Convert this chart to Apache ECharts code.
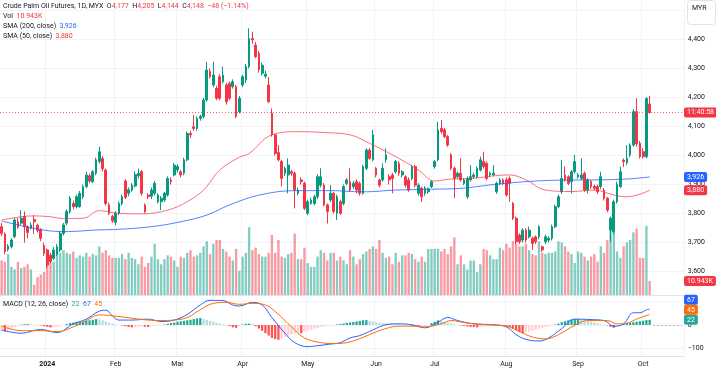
<!DOCTYPE html>
<html><head><meta charset="utf-8">
<script src="https://cdn.jsdelivr.net/npm/echarts@6/dist/echarts.min.js"></script>
<style>html,body{margin:0;padding:0;background:#fff}#c{width:716px;height:372px}</style>
</head><body><div id="c"></div>
<script>
// ---- calendar (categories) ----
const holidays = ['2023-12-25','2024-01-01','2024-01-25','2024-02-01','2024-02-12','2024-03-28','2024-04-10','2024-04-11','2024-05-01','2024-05-22','2024-06-03','2024-06-17','2024-07-08','2024-09-16'];
const firstDay = '2023-12-11';
const lastDay = '2024-10-17';
const monthNames = ['2024','Feb','Mar','Apr','May','Jun','Jul','Aug','Sep','Oct','Nov','Dec'];

// ---- price data (one value per trading day) ----
const opens = [
3755,3730,3677,3686,3721,3772,3767,3790,3755,3750,
3780,3760,3745,3690,3675,3657,3646,3660,3675,3732,
3767,3807,3835,3824,3824,3858,3893,3930,3910,3939,
3979,3990,3950,3830,3790,3770,3801,3835,3912,3870,
3881,3895,3930,3944,3830,3864,3860,3870,3841,3841,
3847,3864,3916,3933,3950,3944,3939,3985,4076,4099,
4093,4128,4134,4191,4289,4243,4231,4271,4254,4243,
4248,4237,4237,4151,4243,4260,4306,4403,4380,4352,
4283,4273,4243,4145,4071,4010,3979,3939,3933,3944,
3939,3870,3916,3904,3801,3835,3835,3858,3898,3898,
3830,3847,3870,3801,3841,3835,3904,3910,3893,3910,
3904,3870,3956,4019,3985,3956,3916,3916,3985,3927,
3933,3944,3973,3933,3927,3916,3921,3962,3870,3887,
3870,3875,3893,3962,3985,4093,4088,4065,4002,3956,
3927,3939,3904,3858,3916,3927,3927,3950,3979,3973,
3933,3933,3875,3904,3916,3916,3921,3835,3784,3726,
3709,3743,3720,3715,3720,3720,3686,3703,3709,3715,
3755,3824,3875,3933,3927,3910,3944,3927,3921,3939,
3881,3910,3893,3893,3893,3881,3853,3744,3738,3841,
3893,3984,3975,4002,4036,4151,4042,4013,3996,4177];
const highs = [
3768,3735,3695,3715,3785,3785,3812,3808,3760,3770,
3795,3765,3750,3700,3680,3665,3685,3695,3740,3768,
3815,3860,3845,3865,3878,3900,3944,3938,3950,3992,
4030,3998,3955,3838,3795,3808,3842,3865,3918,3890,
3905,3945,3955,3950,3835,3870,3890,3912,3870,3860,
3875,3928,3925,3975,3970,3950,3992,4082,4085,4139,
4135,4140,4198,4323,4300,4323,4240,4280,4306,4250,
4255,4262,4243,4205,4278,4315,4438,4426,4390,4360,
4320,4292,4270,4162,4075,4036,3985,3962,3990,3950,
3945,3890,3925,3910,3848,3855,3865,3935,3956,3905,
3835,3898,3875,3865,3848,3900,3922,3956,3912,3918,
3910,3968,4025,4025,4088,3960,3920,3973,4025,3935,
3940,3985,3980,3950,3932,3925,3968,3968,3905,3893,
3895,3890,3915,3985,4116,4122,4095,4070,4008,3962,
3945,3990,3922,3928,3967,3940,3962,3996,4013,3980,
3945,3967,3910,3922,3922,3925,3928,3840,3790,3732,
3750,3750,3755,3720,3725,3760,3690,3728,3722,3762,
3830,3865,3985,3962,3932,3950,4002,3940,3990,3945,
3922,3916,3900,3900,3944,3888,3858,3790,3848,3910,
3962,3990,4035,4042,4160,4197,4050,4025,4200,4205];
const lows = [
3722,3660,3670,3680,3715,3748,3760,3700,3715,3745,
3730,3735,3705,3655,3612,3628,3640,3655,3668,3725,
3760,3800,3815,3818,3820,3850,3888,3905,3905,3932,
3972,3945,3828,3795,3768,3760,3795,3828,3850,3860,
3875,3890,3920,3862,3801,3850,3850,3862,3835,3812,
3840,3858,3900,3928,3940,3925,3932,3980,4060,4085,
4085,4120,4128,4185,4265,4235,4190,4190,4248,4175,
4190,4230,4128,4145,4235,4250,4300,4385,4335,4285,
4275,4265,4180,4065,4000,3980,3893,3930,3870,3930,
3818,3862,3900,3812,3795,3830,3828,3850,3890,3825,
3766,3840,3800,3778,3795,3828,3898,3875,3885,3870,
3862,3865,3950,3985,3980,3925,3890,3910,3975,3900,
3870,3938,3930,3925,3890,3875,3915,3890,3862,3841,
3862,3868,3888,3955,3980,4075,4060,4030,3950,3853,
3920,3910,3898,3850,3910,3920,3920,3945,3955,3915,
3925,3928,3868,3898,3898,3858,3841,3778,3695,3695,
3700,3700,3715,3675,3695,3712,3668,3695,3700,3708,
3750,3818,3868,3910,3898,3870,3938,3920,3915,3875,
3870,3885,3880,3868,3885,3845,3805,3703,3730,3835,
3888,3960,3968,3995,4030,4030,3990,3990,3990,4144];
const closes = [
3732,3669,3688,3709,3778,3753,3784,3755,3735,3761,
3772,3742,3715,3663,3623,3635,3675,3686,3732,3761,
3807,3853,3824,3858,3870,3893,3933,3912,3944,3985,
4013,3955,3835,3801,3775,3801,3835,3858,3856,3882,
3898,3935,3939,3870,3807,3858,3881,3904,3864,3853,
3870,3921,3910,3967,3962,3933,3985,4076,4071,4093,
4128,4134,4191,4294,4271,4277,4197,4197,4277,4185,
4197,4254,4134,4197,4271,4306,4403,4398,4340,4295,
4311,4280,4185,4071,4007,3985,3921,3956,3967,3939,
3881,3881,3910,3818,3841,3847,3858,3927,3927,3830,
3807,3870,3807,3858,3801,3893,3916,3881,3904,3881,
3870,3962,4019,3990,4071,3933,3898,3956,4002,3916,
3921,3979,3939,3944,3898,3881,3962,3898,3898,3858,
3887,3885,3910,3979,4088,4082,4065,4036,3956,3921,
3939,3916,3916,3921,3927,3933,3956,3985,3962,3921,
3939,3939,3904,3916,3904,3864,3904,3784,3703,3703,
3743,3709,3743,3697,3703,3755,3675,3720,3715,3755,
3824,3858,3921,3916,3904,3944,3979,3933,3933,3881,
3916,3893,3887,3875,3927,3853,3812,3784,3841,3900,
3944,3979,3990,4036,4151,4040,3996,3996,4196,4148];
// volume in thousands
const volumes = [
27,26,32,22,20,26,21,22,24,20,8,14,16,18,
24,25,26,35,33,35,33,32,34,29,31,30,33,30,32,31,38,33,35,31,29,29,29,32,28,33,29,
28,24,30,22,25,30,40,28,24,28,31,30,27,22,30,29,33,35,30,31,33,38,42,32,40,43,43,36,34,30,27,36,19,30,33,53,35,37,32,30,
30,33,47,33,43,30,29,32,33,48,28,28,37,25,22,22,30,35,33,27,33,33,27,30,27,24,35,30,24,28,32,34,36,38,36,43,33,29,30,24,
33,26,31,31,33,32,28,26,30,26,36,36,36,36,34,36,32,38,45,24,31,24,20,27,27,18,24,36,35,31,28,28,37,35,40,37,42,40,38,38,
40,35,32,31,42,33,32,33,33,34,42,41,38,34,32,25,34,33,30,27,30,32,26,38,33,43,53,58,34,29,38,41,43,49,52,29,29,54,10.943];

// ---- indicator readings: [barIndex, value] ----
const sma200Pts = [[0,3775],[10,3749],[19,3738],[30,3744],[36,3746],[46,3755],[55,3772],[63,3795],[70,3830],[80,3866],[91,3879],[101,3879],[111,3875],[121,3881],[132,3884],[141,3887],[151,3900],[161,3910],[171,3915],[182,3916],[192,3919],[199,3926]];
const sma50Pts = [[0,3778],[6,3789],[10,3792],[15,3789],[19,3783],[25,3784],[30,3810],[36,3801],[43,3799],[51,3812],[57,3841],[62,3881],[67,3950],[73,3994],[76,4007],[83,4071],[91,4082],[99,4079],[107,4071],[113,4042],[121,3996],[128,3950],[133,3912],[137,3918],[144,3921],[156,3933],[161,3916],[167,3881],[175,3876],[182,3881],[188,3864],[192,3858],[199,3880]];
const macdPts = [[0,-21],[6,-35],[12,-19],[17,-32],[22,5],[26,25],[30,59],[32,63],[34,39],[36,21],[40,21],[45,25],[49,15],[53,21],[57,45],[61,85],[64,105],[68,104],[71,85],[73,81],[77,96],[80,85],[83,32],[87,-35],[90,-75],[94,-92],[97,-88],[101,-81],[104,-75],[107,-55],[110,-45],[114,-21],[118,1],[122,5],[126,1],[130,-12],[134,12],[137,32],[140,19],[145,5],[151,1],[155,-8],[158,-41],[161,-61],[165,-68],[168,-55],[172,-15],[176,25],[181,23],[185,19],[188,-5],[191,5],[194,52],[196,52],[198,65],[199,67]];
const signalPts = [[0,-5],[6,-24],[12,-24],[17,-28],[22,-8],[26,19],[30,43],[34,39],[40,29],[45,21],[49,19],[53,21],[57,32],[61,65],[65,92],[69,96],[73,88],[77,92],[81,85],[85,45],[89,-8],[93,-55],[98,-75],[102,-79],[106,-75],[110,-58],[114,-35],[118,-15],[122,-5],[126,-5],[130,-8],[135,5],[138,19],[143,8],[149,1],[155,-5],[159,-28],[163,-51],[167,-59],[171,-41],[176,-1],[180,19],[186,19],[189,5],[192,8],[195,25],[199,45]];
const histVals = [
-25,-28,-22,-15,-8,-4,
2,3,4,3,1,0,-2,-5,
-8,-10,-8,-6,
-3,0,4,8,10,12,13,15,18,20,22,25,24,
20,15,10,6,2,0,-2,
-5,-8,-10,-9,-7,-6,-7,-8,-5,-3,-2,0,2,
5,8,10,14,16,18,20,22,25,28,30,26,
22,18,14,10,6,3,0,-4,
-10,-12,-5,2,5,6,5,
-5,-15,-25,-35,-45,-55,-60,-63,-58,
-50,-45,-40,-36,-32,-35,-28,-24,-20,-16,
-12,-9,-6,-3,-2,0,2,4,
6,9,11,13,15,17,20,21,18,
15,12,10,8,7,6,5,4,3,2,1,0,
-3,-5,-8,-6,-4,-1,
8,14,20,
17,14,10,6,3,1,
-2,-4,-6,-8,-9,-10,-8,-6,-5,-3,
-2,-1,-2,-3,-5,-8,-15,-22,
-30,-34,-32,-28,-24,-20,-16,
-12,-8,-5,-2,2,6,
12,16,20,22,25,25,23,20,17,
14,10,7,4,1,-2,
-8,-12,-6,
0,4,8,10,12,14,16,18,21,22];

const lastClose = 4148;

// ---- build categories ----
function buildDays(a, b, skip) {
  const out = [];
  const d = new Date(a + 'T00:00:00Z'), end = new Date(b + 'T00:00:00Z');
  while (d <= end) {
    const wd = d.getUTCDay();
    const s = d.toISOString().slice(0, 10);
    if (wd !== 0 && wd !== 6 && skip.indexOf(s) < 0) out.push(s);
    d.setUTCDate(d.getUTCDate() + 1);
  }
  return out;
}
const categories = buildDays(firstDay, lastDay, holidays);
const isMonthStart = (i) => i > 0 && categories[i].slice(5, 7) !== categories[i - 1].slice(5, 7);

const UP = '#089981', DOWN = '#F23645';
const FONT = 'Roboto, "Liberation Sans", sans-serif';
const GRID_RIGHT = 716 - 210 * 3.2565;

const candleData = opens.map((o, i) => [o, closes[i], lows[i], highs[i]]);
const isUp = (i) => closes[i] >= opens[i];
const lastIdx = closes.length - 1;

const chart = echarts.init(document.getElementById('c'), null, { renderer: 'canvas' });

const hiddenX = (gi) => ({ type: 'category', gridIndex: gi, data: categories, boundaryGap: true, show: false });

const option = {
  animation: false,
  backgroundColor: '#ffffff',
  grid: [
    { left: 0, right: GRID_RIGHT, top: 10.25, height: 290.5 },
    { left: 0, right: GRID_RIGHT, top: 155, height: 140 },
    { left: 0, right: GRID_RIGHT, top: 278, height: 100 },
    { left: 0, right: GRID_RIGHT, top: 0, height: 356 }
  ],
  xAxis: [
    hiddenX(0),
    { type: 'category', gridIndex: 1, data: categories, boundaryGap: true, axisTick: { show: false }, axisLabel: { show: false }, axisLine: { lineStyle: { color: '#e0e3eb', width: 1 } }, splitLine: { show: false } },
    hiddenX(2),
    { type: 'category', gridIndex: 3, data: categories, boundaryGap: true,
      axisTick: { show: false },
      axisLine: { lineStyle: { color: '#e0e3eb', width: 1 } },
      axisLabel: {
        interval: (i) => isMonthStart(i), margin: 5, fontSize: 7, fontFamily: FONT, color: '#131722',
        formatter: (v) => { const m = parseInt(v.slice(5, 7), 10) - 1; return m === 0 ? '{b|2024}' : monthNames[m]; },
        rich: { b: { fontWeight: 'bold', fontSize: 7, fontFamily: FONT, color: '#131722' } }
      },
      splitLine: { show: true, interval: (i) => isMonthStart(i), lineStyle: { color: '#f0f3fa', width: 1 } }
    }
  ],
  yAxis: [
    { type: 'value', gridIndex: 0, position: 'right', min: 3500, max: 4500, interval: 100,
      axisLine: { show: false }, axisTick: { show: false },
      axisLabel: { margin: 4, fontSize: 7, fontFamily: FONT, color: '#131722',
        formatter: (v) => (v === 3500 || v === 4500) ? '' : v.toLocaleString('en-US') },
      splitLine: { lineStyle: { color: ['rgba(0,0,0,0)', '#f0f3fa', '#f0f3fa', '#f0f3fa', '#f0f3fa', '#f0f3fa', '#f0f3fa', '#f0f3fa', '#f0f3fa', '#f0f3fa', '#f0f3fa'] } } },
    { type: 'value', gridIndex: 1, min: 0, max: 140 * 0.7816, show: false, splitLine: { show: false } },
    { type: 'value', gridIndex: 2, position: 'right', min: -200, max: 200, interval: 100,
      axisLine: { show: false }, axisTick: { show: false },
      axisLabel: { margin: 4, fontSize: 7, fontFamily: FONT, color: '#131722',
        formatter: (v) => v === 0 ? '0' : (v === -100 ? '\u2212100' : '') },
      splitLine: { lineStyle: { color: ['rgba(0,0,0,0)', '#f0f3fa', '#f0f3fa', '#f0f3fa', 'rgba(0,0,0,0)'] } } },
    { type: 'value', gridIndex: 3, min: 0, max: 1, show: false, splitLine: { show: false } }
  ],
  series: [
    { name: 'vol', type: 'bar', xAxisIndex: 1, yAxisIndex: 1, data: volumes, barWidth: '72%', z: 1,
      itemStyle: { color: (p) => isUp(p.dataIndex) ? 'rgba(8,153,129,0.5)' : 'rgba(242,54,69,0.5)' } },
    { name: 'price', type: 'candlestick', xAxisIndex: 0, yAxisIndex: 0, data: candleData, barWidth: '68%', z: 3,
      itemStyle: { color: UP, color0: DOWN, borderColor: UP, borderColor0: DOWN, borderWidth: 1 },
      markLine: { silent: true, symbol: 'none', label: { show: false },
        lineStyle: { color: DOWN, type: [1, 2], width: 1, opacity: 0.8 },
        data: [{ yAxis: lastClose }] } },
    { name: 'sma200', type: 'line', xAxisIndex: 0, yAxisIndex: 0, data: sma200Pts, smooth: 0.4, showSymbol: false, z: 4,
      lineStyle: { color: '#2962FF', width: 1, opacity: 0.8 } },
    { name: 'sma50', type: 'line', xAxisIndex: 0, yAxisIndex: 0, data: sma50Pts, smooth: 0.4, showSymbol: false, z: 4,
      lineStyle: { color: '#F23645', width: 1, opacity: 0.7 } },
    { name: 'hist', type: 'bar', xAxisIndex: 2, yAxisIndex: 2, data: histVals, barWidth: '70%', z: 2,
      itemStyle: { color: (p) => { const i = p.dataIndex, v = histVals[i], pv = i > 0 ? histVals[i - 1] : v;
        if (v >= 0) return v >= pv ? '#26A69A' : '#B2DFDB'; return v < pv ? '#FF5252' : '#FFCDD2'; } },
      markLine: { silent: true, symbol: 'none', label: { show: false },
        lineStyle: { color: '#9598a1', type: [2, 2], width: 1, opacity: 0.6 },
        data: [[{ coord: [lastIdx + 1, 0] }, { coord: [categories.length - 1, 0] }]] } },
    { name: 'macd', type: 'line', xAxisIndex: 2, yAxisIndex: 2, data: macdPts, smooth: 0.4, showSymbol: false, z: 4,
      lineStyle: { color: '#2962FF', width: 1 } },
    { name: 'signal', type: 'line', xAxisIndex: 2, yAxisIndex: 2, data: signalPts, smooth: 0.4, showSymbol: false, z: 4,
      lineStyle: { color: '#FF6D00', width: 1 } }
  ]
};
chart.setOption(option);

// ---- labels placed through the library's scales ----
const py = (v) => chart.convertToPixel({ yAxisIndex: 0 }, v);
const my = (v) => chart.convertToPixel({ yAxisIndex: 2 }, v);
const vy = chart.convertToPixel({ yAxisIndex: 1 }, volumes[volumes.length - 1]);
const lastMacd = macdPts[macdPts.length - 1][1], lastSig = signalPts[signalPts.length - 1][1], lastHist = histVals[histVals.length - 1];
let yH = my(lastHist), yS = Math.min(my(lastSig), yH - 10), yM = Math.min(my(lastMacd), yS - 10);

function tag(y, text, bg) {
  return { type: 'text', x: 684, y: y, z: 100,
    style: { text: text, fill: '#ffffff', backgroundColor: bg, padding: [2, 3, 1, 3], borderRadius: 2,
      font: '7px ' + FONT, align: 'left', verticalAlign: 'middle' } };
}
const legendRich = {
  g: { fill: '#131722', font: '7px ' + FONT },
  r: { fill: '#F23645', font: '7px ' + FONT },
  b: { fill: '#2962FF', font: '7px ' + FONT },
  t: { fill: '#26A69A', font: '7px ' + FONT },
  o: { fill: '#FF6D00', font: '7px ' + FONT }
};
function legend(y, text) {
  return { type: 'text', x: 3, y: y, z: 100, style: { text: text, rich: legendRich, font: '7px ' + FONT, fill: '#131722', verticalAlign: 'middle' } };
}
chart.setOption({
  graphic: [
    legend(6, '{g|Crude Palm Oil Futures, 1D, MYX}  {g|O}{r|4,177}  {g|H}{r|4,205}  {g|L}{r|4,144}  {g|C}{r|4,148}  {r|\u221248 (\u22121.14%)}'),
    legend(16, '{g|Vol}  {r|10.943K}'),
    legend(26, '{g|SMA (200, close)}  {b|3,926}'),
    legend(36, '{g|SMA (50, close)}  {r|3,880}'),
    legend(304, '{g|MACD (12, 26, close)}  {t|22}  {b|67}  {o|45}'),
    tag(py(lastClose), '11:40:58', '#F23645'),
    tag(py(3926), '3,926', '#2962FF'),
    tag(py(3880), '3,880', '#F23645'),
    tag(vy, '10.943K', '#F23645'),
    tag(yM, '67', '#2962FF'),
    tag(yS, '45', '#FF6D00'),
    tag(yH, '22', '#26A69A'),
    { type: 'rect', z: 100, shape: { x: 687.5, y: 0.5, width: 28, height: 24, r: 3 }, style: { fill: '#ffffff', stroke: '#e0e3eb', lineWidth: 1 } },
    { type: 'text', z: 101, x: 692, y: 8, style: { text: 'MYR', fill: '#131722', font: '7px ' + FONT, verticalAlign: 'middle' } }
  ]
});
</script></body></html>
